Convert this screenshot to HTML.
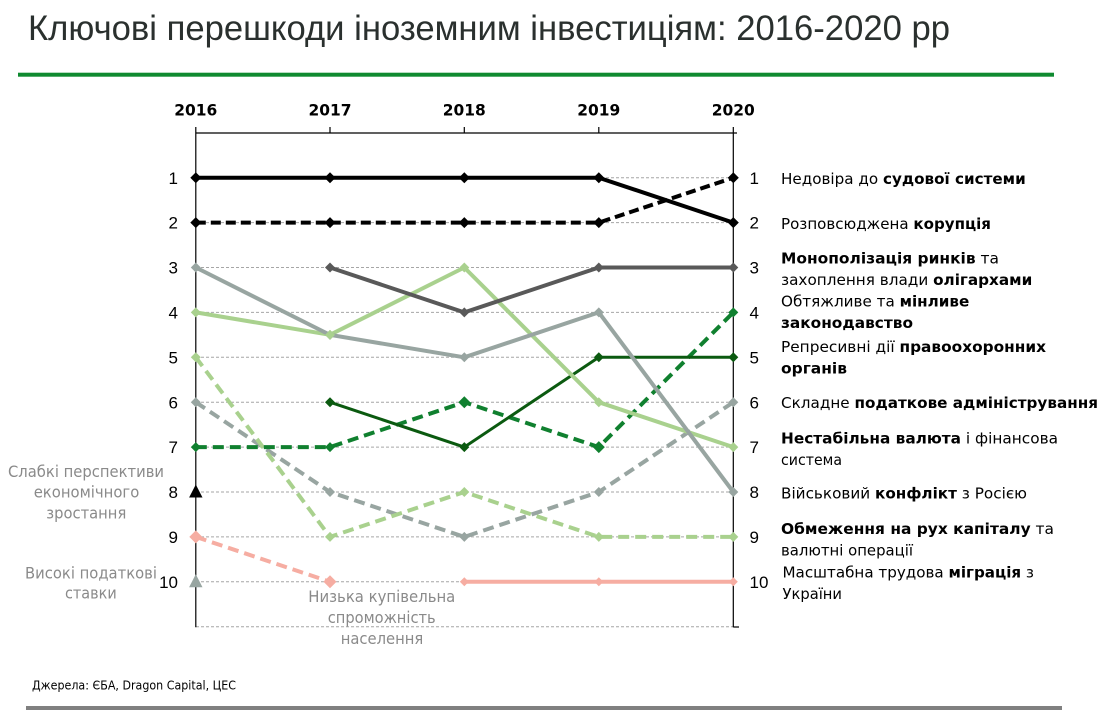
<!DOCTYPE html>
<html><head><meta charset="utf-8"><style>
html,body{margin:0;padding:0;background:#fff;}
svg{display:block;}
text{font-family:"DejaVu Sans","Liberation Sans","Noto Sans CJK SC",sans-serif;}
.n{font-family:"Liberation Sans","DejaVu Sans",sans-serif;font-size:17px;fill:#000;}
.r{font-size:15.5px;fill:#000;}
.g{font-size:16px;fill:#8a8a8a;}
.b{font-weight:700;}
</style></head><body>
<svg width="1103" height="713" viewBox="0 0 1103 713" xmlns="http://www.w3.org/2000/svg">
<rect width="1103" height="713" fill="#fff"/>
<text x="28" y="40" style="font-family:'Liberation Sans Narrow','Liberation Sans',sans-serif" font-size="35.5" fill="#2a302e" textLength="922" lengthAdjust="spacingAndGlyphs">Ключові перешкоди іноземним інвестиціям: 2016-2020 рр</text>
<rect x="18" y="72.7" width="1036" height="4" fill="#0f8a30"/>

<!-- year labels -->
<g font-size="16" font-weight="700" text-anchor="middle">
<text x="195.8" y="115.7" textLength="43" lengthAdjust="spacingAndGlyphs">2016</text>
<text x="330" y="115.7" textLength="43" lengthAdjust="spacingAndGlyphs">2017</text>
<text x="464.3" y="115.7" textLength="43" lengthAdjust="spacingAndGlyphs">2018</text>
<text x="598.8" y="115.7" textLength="43" lengthAdjust="spacingAndGlyphs">2019</text>
<text x="733.3" y="115.7" textLength="43" lengthAdjust="spacingAndGlyphs">2020</text>
</g>

<!-- gridlines -->
<g stroke="#a6a6a6" stroke-width="1" stroke-dasharray="3 2">
<line x1="196" y1="177.7" x2="733" y2="177.7"/>
<line x1="196" y1="222.6" x2="733" y2="222.6"/>
<line x1="196" y1="267.5" x2="733" y2="267.5"/>
<line x1="196" y1="312.4" x2="733" y2="312.4"/>
<line x1="196" y1="357.3" x2="733" y2="357.3"/>
<line x1="196" y1="402.2" x2="733" y2="402.2"/>
<line x1="196" y1="447.1" x2="733" y2="447.1"/>
<line x1="196" y1="492" x2="733" y2="492"/>
<line x1="196" y1="536.9" x2="733" y2="536.9"/>
<line x1="196" y1="581.8" x2="733" y2="581.8"/>
<line x1="196" y1="626.7" x2="733" y2="626.7"/>
</g>

<!-- axes -->
<g stroke="#000" stroke-width="1.2" fill="none">
<line x1="195.8" y1="133" x2="195.8" y2="627.3"/>
<line x1="733.3" y1="133" x2="733.3" y2="627.3"/>
<line x1="195.8" y1="133" x2="737" y2="133"/>
<line x1="733.3" y1="627" x2="739" y2="627"/>
<line x1="195.8" y1="127" x2="195.8" y2="133"/>
<line x1="330" y1="127" x2="330" y2="133"/>
<line x1="464.3" y1="127" x2="464.3" y2="133"/>
<line x1="598.8" y1="127" x2="598.8" y2="133"/>
<line x1="733.3" y1="127" x2="733.3" y2="133"/>
</g>

<!-- series -->
<g fill="none" stroke-linejoin="miter">
<polyline points="195.8,536.9 330,581.8" stroke="#f6ada2" stroke-width="4" stroke-dasharray="11 6"/>
<polyline points="464.3,581.8 598.8,581.8 733.3,581.8" stroke="#f6ada2" stroke-width="4"/>
<polyline points="195.8,402.2 330,492 464.3,536.9 598.8,492 733.3,402.2" stroke="#98a5a1" stroke-width="4" stroke-dasharray="11 6"/>
<polyline points="195.8,357.3 330,536.9 464.3,492 598.8,536.9 733.3,536.9" stroke="#a9d18e" stroke-width="4" stroke-dasharray="11 6"/>
<polyline points="195.8,447.1 330,447.1 464.3,402.2 598.8,447.1 733.3,312.4" stroke="#10802f" stroke-width="4" stroke-dasharray="11 6"/>
<polyline points="330,402.2 464.3,447.1 598.8,357.3 733.3,357.3" stroke="#0b5a10" stroke-width="3"/>
<polyline points="195.8,312.4 330,334.85 464.3,267.5 598.8,402.2 733.3,447.1" stroke="#a9d18e" stroke-width="4"/>
<polyline points="195.8,267.5 330,334.85 464.3,357.3 598.8,312.4 733.3,492" stroke="#98a5a1" stroke-width="4"/>
<polyline points="330,267.5 464.3,312.4 598.8,267.5 733.3,267.5" stroke="#595959" stroke-width="4"/>
<polyline points="195.8,222.6 330,222.6 464.3,222.6 598.8,222.6 733.3,177.7" stroke="#000" stroke-width="4" stroke-dasharray="10 5"/>
<polyline points="195.8,177.7 330,177.7 464.3,177.7 598.8,177.7 733.3,222.6" stroke="#000" stroke-width="4"/>
</g>

<!-- markers -->
<g>
<g fill="#000">
<path d="M195.8,172.2 l5.5,5.5 l-5.5,5.5 l-5.5,-5.5z"/>
<path d="M330,172.2 l5.5,5.5 l-5.5,5.5 l-5.5,-5.5z"/>
<path d="M464.3,172.2 l5.5,5.5 l-5.5,5.5 l-5.5,-5.5z"/>
<path d="M598.8,172.2 l5.5,5.5 l-5.5,5.5 l-5.5,-5.5z"/>
<path d="M733.3,172.2 l5.5,5.5 l-5.5,5.5 l-5.5,-5.5z"/>
<path d="M195.8,217.1 l5.5,5.5 l-5.5,5.5 l-5.5,-5.5z"/>
<path d="M330,217.1 l5.5,5.5 l-5.5,5.5 l-5.5,-5.5z"/>
<path d="M464.3,217.1 l5.5,5.5 l-5.5,5.5 l-5.5,-5.5z"/>
<path d="M598.8,217.1 l5.5,5.5 l-5.5,5.5 l-5.5,-5.5z"/>
<path d="M733.3,217.1 l5.5,5.5 l-5.5,5.5 l-5.5,-5.5z"/>
</g>
<g fill="#595959">
<path d="M330,262.5 l5,5 l-5,5 l-5,-5z"/>
<path d="M464.3,307.4 l5,5 l-5,5 l-5,-5z"/>
<path d="M598.8,262.5 l5,5 l-5,5 l-5,-5z"/>
<path d="M733.3,262.5 l5,5 l-5,5 l-5,-5z"/>
</g>
<g fill="#98a5a1">
<path d="M195.8,262.5 l5,5 l-5,5 l-5,-5z"/>
<path d="M330,329.85 l5,5 l-5,5 l-5,-5z"/>
<path d="M464.3,352.3 l5,5 l-5,5 l-5,-5z"/>
<path d="M598.8,307.4 l5,5 l-5,5 l-5,-5z"/>
<path d="M733.3,487 l5,5 l-5,5 l-5,-5z"/>
<path d="M195.8,397.2 l5,5 l-5,5 l-5,-5z"/>
<path d="M330,487 l5,5 l-5,5 l-5,-5z"/>
<path d="M464.3,531.9 l5,5 l-5,5 l-5,-5z"/>
<path d="M598.8,487 l5,5 l-5,5 l-5,-5z"/>
<path d="M733.3,397.2 l5,5 l-5,5 l-5,-5z"/>
</g>
<g fill="#a9d18e">
<path d="M195.8,307.4 l5,5 l-5,5 l-5,-5z"/>
<path d="M330,329.85 l5,5 l-5,5 l-5,-5z"/>
<path d="M464.3,262.5 l5,5 l-5,5 l-5,-5z"/>
<path d="M598.8,397.2 l5,5 l-5,5 l-5,-5z"/>
<path d="M733.3,442.1 l5,5 l-5,5 l-5,-5z"/>
<path d="M195.8,352.3 l5,5 l-5,5 l-5,-5z"/>
<path d="M330,531.9 l5,5 l-5,5 l-5,-5z"/>
<path d="M464.3,487 l5,5 l-5,5 l-5,-5z"/>
<path d="M598.8,531.9 l5,5 l-5,5 l-5,-5z"/>
<path d="M733.3,531.9 l5,5 l-5,5 l-5,-5z"/>
</g>
<g fill="#0b5a10">
<path d="M330,397.2 l5,5 l-5,5 l-5,-5z"/>
<path d="M464.3,442.1 l5,5 l-5,5 l-5,-5z"/>
<path d="M598.8,352.3 l5,5 l-5,5 l-5,-5z"/>
<path d="M733.3,352.3 l5,5 l-5,5 l-5,-5z"/>
</g>
<g fill="#10802f">
<path d="M195.8,442.1 l5,5 l-5,5 l-5,-5z"/>
<path d="M330,442.1 l5,5 l-5,5 l-5,-5z"/>
<path d="M464.3,396.2 l6,6 l-6,6 l-6,-6z"/>
<path d="M598.8,441.1 l6,6 l-6,6 l-6,-6z"/>
<path d="M733.3,307.4 l5,5 l-5,5 l-5,-5z"/>
</g>
<g fill="#f6ada2">
<path d="M195.8,530.4 l6.5,6.5 l-6.5,6.5 l-6.5,-6.5z"/>
<path d="M330,575.3 l6.5,6.5 l-6.5,6.5 l-6.5,-6.5z"/>
<path d="M464.3,577.3 l4.5,4.5 l-4.5,4.5 l-4.5,-4.5z"/>
<path d="M598.8,577.3 l4.5,4.5 l-4.5,4.5 l-4.5,-4.5z"/>
<path d="M733.3,577.3 l4.5,4.5 l-4.5,4.5 l-4.5,-4.5z"/>
</g>
<path d="M195.8,484.5 L202.5,497.5 L189.1,497.5 Z" fill="#000"/>
<path d="M195.8,574.3 L202.5,587.3 L189.1,587.3 Z" fill="#98a5a1"/>
</g>

<!-- left rank numbers -->
<g text-anchor="end">
<text class="n" x="178" y="183.8">1</text>
<text class="n" x="178" y="228.7">2</text>
<text class="n" x="178" y="273.6">3</text>
<text class="n" x="178" y="318.5">4</text>
<text class="n" x="178" y="363.4">5</text>
<text class="n" x="178" y="408.3">6</text>
<text class="n" x="178" y="453.2">7</text>
<text class="n" x="178" y="498.1">8</text>
<text class="n" x="178" y="543">9</text>
<text class="n" x="178" y="587.9">10</text>
</g>
<!-- right rank numbers -->
<g>
<text class="n" x="749.5" y="183.8">1</text>
<text class="n" x="749.5" y="228.7">2</text>
<text class="n" x="749.5" y="273.6">3</text>
<text class="n" x="749.5" y="318.5">4</text>
<text class="n" x="749.5" y="363.4">5</text>
<text class="n" x="749.5" y="408.3">6</text>
<text class="n" x="749.5" y="453.2">7</text>
<text class="n" x="749.5" y="498.1">8</text>
<text class="n" x="749.5" y="543">9</text>
<text class="n" x="749.5" y="587.9">10</text>
</g>

<!-- right labels -->
<g>
<text class="r" x="781" y="184" textLength="244.7" lengthAdjust="spacingAndGlyphs">Недовіра до <tspan class="b">судової системи</tspan></text>
<text class="r" x="781" y="229" textLength="210" lengthAdjust="spacingAndGlyphs">Розповсюджена <tspan class="b">корупція</tspan></text>
<text class="r" x="781" y="263.3" textLength="218" lengthAdjust="spacingAndGlyphs"><tspan class="b">Монополізація ринків</tspan> та</text>
<text class="r" x="781" y="285" textLength="251.3" lengthAdjust="spacingAndGlyphs">захоплення влади <tspan class="b">олігархами</tspan></text>
<text class="r" x="781" y="306.6" textLength="188.3" lengthAdjust="spacingAndGlyphs">Обтяжливе та <tspan class="b">мінливе</tspan></text>
<text class="r" x="781" y="328.2" textLength="132" lengthAdjust="spacingAndGlyphs"><tspan class="b">законодавство</tspan></text>
<text class="r" x="781" y="352" textLength="265" lengthAdjust="spacingAndGlyphs">Репресивні дії <tspan class="b">правоохоронних</tspan></text>
<text class="r" x="781" y="373.7" textLength="66" lengthAdjust="spacingAndGlyphs"><tspan class="b">органів</tspan></text>
<text class="r" x="781" y="408" textLength="317" lengthAdjust="spacingAndGlyphs">Складне <tspan class="b">податкове адміністрування</tspan></text>
<text class="r" x="781" y="443.5" textLength="277" lengthAdjust="spacingAndGlyphs"><tspan class="b">Нестабільна валюта</tspan> і фінансова</text>
<text class="r" x="781" y="465.2" textLength="61" lengthAdjust="spacingAndGlyphs">система</text>
<text class="r" x="781" y="498.3" textLength="246" lengthAdjust="spacingAndGlyphs">Військовий <tspan class="b">конфлікт</tspan> з Росією</text>
<text class="r" x="781" y="534" textLength="273" lengthAdjust="spacingAndGlyphs"><tspan class="b">Обмеження на рух капіталу</tspan> та</text>
<text class="r" x="781" y="555.7" textLength="132" lengthAdjust="spacingAndGlyphs">валютні операції</text>
<text class="r" x="782.5" y="577.5" textLength="251.5" lengthAdjust="spacingAndGlyphs">Масштабна трудова <tspan class="b">міграція</tspan> з</text>
<text class="r" x="782.5" y="599.2" textLength="59.5" lengthAdjust="spacingAndGlyphs">України</text>
</g>

<!-- left gray labels -->
<g>
<text class="g" x="8" y="477" textLength="156" lengthAdjust="spacingAndGlyphs">Слабкі перспективи</text>
<text class="g" x="33.7" y="497.5" textLength="105.6" lengthAdjust="spacingAndGlyphs">економічного</text>
<text class="g" x="46.3" y="518.7" textLength="80" lengthAdjust="spacingAndGlyphs">зростання</text>
<text class="g" x="25" y="578.5" textLength="132" lengthAdjust="spacingAndGlyphs">Високі податкові</text>
<text class="g" x="65" y="598.7" textLength="51.7" lengthAdjust="spacingAndGlyphs">ставки</text>
<text class="g" x="308.3" y="602" textLength="147" lengthAdjust="spacingAndGlyphs">Низька купівельна</text>
<text class="g" x="327.7" y="623" textLength="108" lengthAdjust="spacingAndGlyphs">спроможність</text>
<text class="g" x="340.7" y="643.8" textLength="82.6" lengthAdjust="spacingAndGlyphs">населення</text>
</g>

<text x="32" y="689.5" font-size="12.5" fill="#000" textLength="204" lengthAdjust="spacingAndGlyphs">Джерела: ЄБА, Dragon Capital, ЦЕС</text>
<rect x="26" y="706" width="1036" height="4" fill="#808080"/>
</svg>
</body></html>
